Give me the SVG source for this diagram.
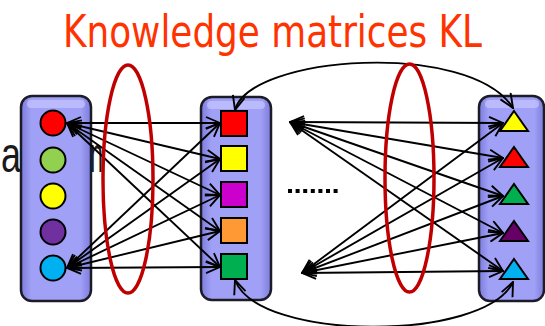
<svg xmlns="http://www.w3.org/2000/svg" width="545" height="326" viewBox="0 0 545 326">
<style>
.box{stroke:#1c1c28;stroke-width:2.5;fill:url(#bg)}
.hl{fill:#c4c4ff;opacity:0.7}
.nd{stroke:#000;stroke-width:2}
.cn{stroke:#000;stroke-width:1.9;fill:none;marker-start:url(#ah);marker-end:url(#ah)}
.el{fill:none;stroke:#c00000;stroke-width:3.5}
</style>
<defs>
<linearGradient id="bg" x1="0" y1="0" x2="1" y2="0">
<stop offset="0" stop-color="#7c7cdc"/>
<stop offset="0.15" stop-color="#a0a0f6"/>
<stop offset="0.85" stop-color="#a0a0f6"/>
<stop offset="1" stop-color="#7c7cdc"/>
</linearGradient>
<marker id="ah" viewBox="0 0 16 14" refX="15" refY="7" markerWidth="16" markerHeight="14" markerUnits="userSpaceOnUse" orient="auto-start-reverse">
<path d="M1,1 L15,7 L1,13" fill="none" stroke="#000" stroke-width="1.9"/>
</marker>
</defs>
<text x="63" y="47" font-family="'DejaVu Sans Condensed','DejaVu Sans',sans-serif" font-size="44" fill="#ff3300" textLength="419" lengthAdjust="spacingAndGlyphs">Knowledge matrices KL</text>
<g id="bgtext" font-family="'Liberation Sans',Arial,sans-serif" font-size="50" fill="#1a1a1a">
<text x="1" y="172" textLength="30" lengthAdjust="spacingAndGlyphs">at</text>
<text x="90" y="172" textLength="13" lengthAdjust="spacingAndGlyphs">n</text>
</g>
<g id="leftbox">
<rect class="box" x="21" y="96" width="70" height="205" rx="11"/>
<rect class="hl" x="27" y="100" width="58" height="8" rx="4"/>
<circle class="nd" cx="53" cy="123" r="12.5" fill="#ff0000"/>
<circle class="nd" cx="53" cy="160" r="12.5" fill="#92d050"/>
<circle class="nd" cx="53" cy="196" r="12.5" fill="#ffff00"/>
<circle class="nd" cx="53" cy="232" r="12.5" fill="#7030a0"/>
<circle class="nd" cx="53" cy="268" r="12.5" fill="#00b0f0"/>
</g>
<g id="midbox">
<rect class="box" x="201" y="97" width="70" height="203" rx="11"/>
<rect class="hl" x="207" y="101" width="58" height="8" rx="4"/>
<rect class="nd" x="221" y="111" width="26" height="25" fill="#ff0000"/>
<rect class="nd" x="221" y="146" width="26" height="25" fill="#ffff00"/>
<rect class="nd" x="221" y="182" width="26" height="25" fill="#cc00cc"/>
<rect class="nd" x="221" y="218" width="26" height="25" fill="#ff9933"/>
<rect class="nd" x="221" y="254" width="26" height="25" fill="#00b050"/>
</g>
<g id="rightbox">
<rect class="box" x="479" y="96" width="65" height="205" rx="11"/>
<rect class="hl" x="485" y="100" width="54" height="8" rx="4"/>
<polygon class="nd" points="514,111 528,131 500,131" fill="#ffff00"/>
<polygon class="nd" points="514,147 528,167 500,167" fill="#ff0000"/>
<polygon class="nd" points="514,184 528,204 500,204" fill="#00b050"/>
<polygon class="nd" points="514,221 528,241 500,241" fill="#660066"/>
<polygon class="nd" points="514,259 528,279 500,279" fill="#00b0f0"/>
</g>
<g id="dots">
<line x1="288" y1="191" x2="341" y2="191" stroke="#000" stroke-width="4" stroke-dasharray="4 3.6"/>
</g>
<g id="connectors">
<line class="cn" x1="67" y1="123" x2="220" y2="123"/>
<line class="cn" x1="67" y1="123" x2="220" y2="159"/>
<line class="cn" x1="67" y1="123" x2="220" y2="195"/>
<line class="cn" x1="67" y1="123" x2="220" y2="231"/>
<line class="cn" x1="67" y1="123" x2="220" y2="267"/>
<line class="cn" x1="67" y1="268" x2="220" y2="123"/>
<line class="cn" x1="67" y1="268" x2="220" y2="159"/>
<line class="cn" x1="67" y1="268" x2="220" y2="195"/>
<line class="cn" x1="67" y1="268" x2="220" y2="231"/>
<line class="cn" x1="67" y1="268" x2="220" y2="267"/>
<line class="cn" x1="290" y1="122" x2="503" y2="123"/>
<line class="cn" x1="290" y1="122" x2="503" y2="158"/>
<line class="cn" x1="290" y1="122" x2="503" y2="196"/>
<line class="cn" x1="290" y1="122" x2="503" y2="233"/>
<line class="cn" x1="290" y1="122" x2="503" y2="271"/>
<line class="cn" x1="302" y1="273" x2="503" y2="123"/>
<line class="cn" x1="302" y1="273" x2="503" y2="158"/>
<line class="cn" x1="302" y1="273" x2="503" y2="196"/>
<line class="cn" x1="302" y1="273" x2="503" y2="233"/>
<line class="cn" x1="302" y1="273" x2="503" y2="271"/>
<path class="cn" d="M235,110 C250,55 470,40 513,108"/>
<path class="cn" d="M235,280 C258,342 485,342 513,282"/>
</g>
<g id="ellipses">
<ellipse class="el" cx="128" cy="179" rx="25" ry="114"/>
<ellipse class="el" cx="409.5" cy="178" rx="24.5" ry="114"/>
</g>
</svg>
